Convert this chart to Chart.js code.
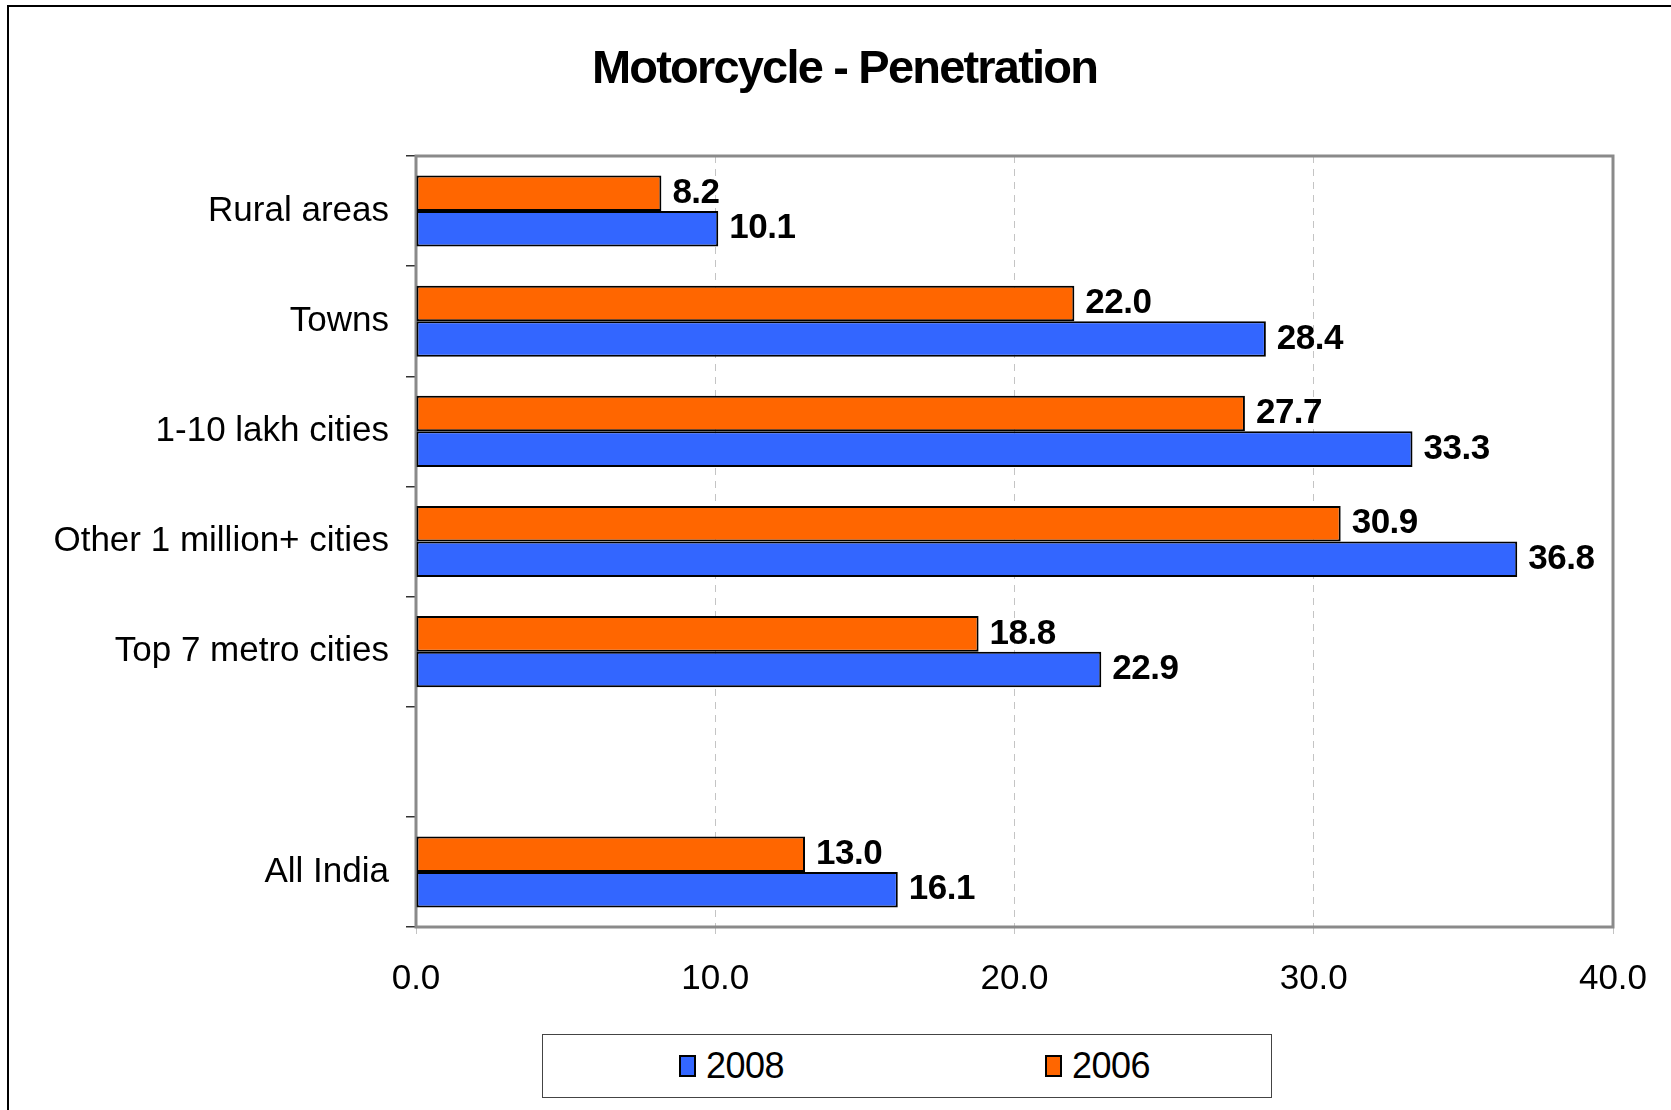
<!DOCTYPE html>
<html>
<head>
<meta charset="utf-8">
<script src="https://cdn.jsdelivr.net/npm/chart.js@4.4.1/dist/chart.umd.min.js"></script>
<style>
  html, body { margin: 0; padding: 0; background: #fff; overflow: hidden; width: 1671px; height: 1110px; }
  #frame { position: absolute; left: 7px; top: 5px; width: 1700px; height: 1200px;
           border-left: 2px solid #000; border-top: 2px solid #000; }
  #chart { position: absolute; left: 0; top: 0; }
  #legend { position: absolute; left: 533px; top: 1027px; width: 730px; height: 64px;
            border: 1px solid #444; display: flex; align-items: center; padding-left: 136px;
            box-sizing: border-box; font-family: "Liberation Sans", Arial, sans-serif; font-size: 36px; }
  #legend .item { flex: 0 0 366px; display: flex; align-items: center; letter-spacing: -0.5px; }
  #legend .sw { width: 13px; height: 18px; border: 2px solid #000; margin-right: 10px; }
</style>
</head>
<body>
<div id="frame">
  <canvas id="chart" width="1671" height="1000"></canvas>
  <div id="legend"></div>
</div>
<script>
// ── Data ────────────────────────────────────────────────────────────────────
const TITLE = 'Motorcycle - Penetration';
const CATEGORIES = ['Rural areas', 'Towns', '1-10 lakh cities', 'Other 1 million+ cities', 'Top 7 metro cities', '', 'All India'];
const VALUES_2006 = [8.2, 22.0, 27.7, 30.9, 18.8, null, 13.0];
const VALUES_2008 = [10.1, 28.4, 33.3, 36.8, 22.9, null, 16.1];
const X_TICKS = [0, 10, 20, 30, 40];

const FONT = '"Liberation Sans", Arial, sans-serif';
const ORANGE = '#FF6600';
const BLUE = '#3366FF';

// Tight bold title centred on the whole canvas.
const chartTitle = {
    id: 'chartTitle',
    afterDraw(chart) {
        const { ctx } = chart;
        ctx.save();
        ctx.font = `bold 47px ${FONT}`;
        ctx.letterSpacing = '-1.8px';
        ctx.fillStyle = '#000';
        ctx.textAlign = 'center';
        ctx.textBaseline = 'alphabetic';
        ctx.fillText(TITLE, chart.width / 2, 76);
        ctx.restore();
    },
};

// Gray frame round the plot area.
const plotFrame = {
    id: 'plotFrame',
    beforeDatasetsDraw(chart) {
        const { ctx, chartArea: a } = chart;
        ctx.save();
        ctx.strokeStyle = '#8a8a8a';
        ctx.lineWidth = 3;
        ctx.strokeRect(a.left, a.top, a.right - a.left, a.bottom - a.top);
        ctx.restore();
    },
};

// Bold value labels just past the end of each bar.
const valueLabels = {
    id: 'valueLabels',
    afterDatasetsDraw(chart) {
        const { ctx } = chart;
        ctx.save();
        ctx.font = `bold 35px ${FONT}`;
        ctx.letterSpacing = '-0.5px';
        ctx.fillStyle = '#000';
        ctx.textBaseline = 'middle';
        ctx.textAlign = 'left';
        chart.data.datasets.forEach((ds, i) => {
            chart.getDatasetMeta(i).data.forEach((bar, j) => {
                const v = ds.data[j];
                if (v == null) return;
                ctx.fillText(v.toFixed(1), bar.x + 11, bar.y);
            });
        });
        ctx.restore();
    },
};

const datasets = [
    { label: '2006', data: VALUES_2006, backgroundColor: ORANGE },
    { label: '2008', data: VALUES_2008, backgroundColor: BLUE },
].map(d => ({
    ...d,
    borderColor: '#000',
    borderWidth: 2,
    borderSkipped: false,
    categoryPercentage: 0.645,
    barPercentage: 1.0,
}));

new Chart(document.getElementById('chart'), {
    type: 'bar',
    data: { labels: CATEGORIES, datasets },
    plugins: [plotFrame, valueLabels, chartTitle],
    options: {
        indexAxis: 'y',
        responsive: false,
        animation: false,
        layout: { padding: { left: 0, right: 67, top: 149, bottom: 0 } },
        scales: {
            x: {
                min: 0,
                max: 40,
                afterBuildTicks: s => { s.ticks = X_TICKS.map(v => ({ value: v })); },
                afterFit: s => { s.height = 80; },
                grid: { color: '#c4c4c4', lineWidth: 1, tickLength: 10, tickBorderDash: [7, 6] },
                border: { display: false, dash: [7, 6] },
                ticks: {
                    color: '#000',
                    padding: 21,
                    font: { family: FONT, size: 35 },
                    callback: v => Number(v).toFixed(1),
                },
            },
            y: {
                afterFit: s => { s.width = 407; },
                grid: { drawOnChartArea: false, color: '#333', tickLength: 10, lineWidth: 1.5 },
                border: { display: false },
                ticks: {
                    color: '#000',
                    padding: 17,
                    font: { family: FONT, size: 35 },
                },
            },
        },
        plugins: {
            legend: { display: false },
            tooltip: { enabled: false },
            title: { display: false },
        },
    },
});

// HTML legend (boxed), 2008 first as in the source.
const legend = document.getElementById('legend');
[...datasets].reverse().forEach(ds => {
    const item = document.createElement('div');
    item.className = 'item';
    item.innerHTML = `<span class="sw" style="background:${ds.backgroundColor}"></span><span>${ds.label}</span>`;
    legend.appendChild(item);
});
</script>
</body>
</html>
